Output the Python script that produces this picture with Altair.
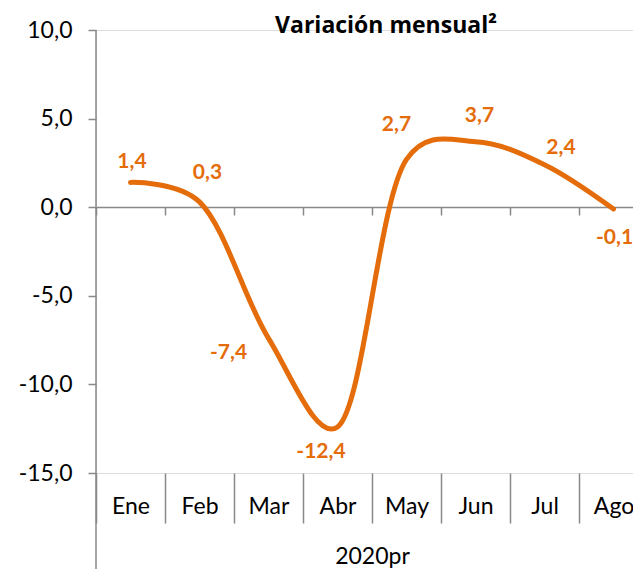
import altair as alt
import pandas as pd

months = ["Ene", "Feb", "Mar", "Abr", "May", "Jun", "Jul", "Ago"]
values = [1.4, 0.3, -7.4, -12.4, 2.7, 3.7, 2.4, -0.1]
# label placement (dx, dy) in pixels relative to each point
label_offsets = [(1.5, -20), (8, -29), (-40, 15), (-16.5, 25),
                 (-10, -34), (4, -26), (16.5, -17), (1, 29)]
y_ticks = [-15, -10, -5, 0, 5, 10]
title_text = "Variación mensual²"

df = pd.DataFrame({
    "mes": months,
    "valor": values,
    "etiqueta": [f"{v:.1f}".replace(".", ",") for v in values],
})

ORANGE = "#E46C0A"
GREY = "#898989"
FONT = "Lato"

xscale = alt.Scale(domain=months, range=[0, 552], paddingInner=0, paddingOuter=0)
yscale = alt.Scale(domain=[-15, 10], nice=False)

y_enc = alt.Y("valor:Q", scale=yscale, title=None,
              axis=alt.Axis(values=y_ticks, domain=False, grid=False, tickSize=8,
                            tickColor=GREY, tickWidth=1.5,
                            labelExpr="replace(replace(format(datum.value, '.1f'), '.', ','), '\u2212', '-')",
                            labelFont=FONT, labelFontSize=23, labelColor="black",
                            labelPadding=16))

x_main = alt.X("mes:N", sort=months, scale=xscale, title="2020pr",
               axis=alt.Axis(orient="bottom", domain=False, tickBand="extent",
                             tickSize=50, tickColor=GREY, tickWidth=1.5,
                             labelFont=FONT, labelFontSize=23, labelColor="black",
                             labelAngle=0, labelBaseline="middle", labelPadding=-17,
                             titleFont=FONT, titleFontSize=23, titleFontWeight="normal",
                             titleColor="black", titleY=90, titleBaseline="alphabetic"))

x_zero = alt.X("mes:N", sort=months, scale=xscale, title=None,
               axis=alt.Axis(orient="bottom", offset=-266, labels=False, domain=True,
                             domainColor=GREY, domainWidth=1.5, tickBand="extent",
                             tickSize=8, tickColor=GREY, tickWidth=1.5))

x_none = alt.X("mes:N", sort=months, scale=xscale, axis=None)

one = pd.DataFrame({"t": [title_text]})

yaxis_line = alt.Chart(one).mark_rule(
    color=GREY, strokeWidth=1.5
).encode(x=alt.value(0), y=alt.value(0), y2=alt.value(560))

title = alt.Chart(one).mark_text(
    font="Open Sans", fontSize=23, fontWeight="bold", color="black",
    align="center", baseline="alphabetic"
).encode(x=alt.value(290), y=alt.value(3), text="t:N")

zero_axis = alt.Chart(df).mark_point(opacity=0).encode(x=x_zero, y=y_enc)

line = alt.Chart(df).mark_line(
    color=ORANGE, strokeWidth=5, interpolate="catmull-rom", tension=0.25,
    strokeCap="round"
).encode(x=x_main, y=y_enc)

texts = []
for m, (dx, dy) in zip(months, label_offsets):
    texts.append(
        alt.Chart(df).transform_filter(alt.datum.mes == m).mark_text(
            font=FONT, fontSize=21, fontWeight="bold", color=ORANGE,
            align="center", baseline="middle", dx=dx, dy=dy
        ).encode(x=x_none, y=y_enc, text="etiqueta:N")
    )

chart = alt.layer(yaxis_line, zero_axis, line, *texts, title).resolve_axis(
    x="independent"
).properties(
    width=537,
    height=443,
    autosize=alt.AutoSizeParams(type="none"),
    padding={"left": 88, "top": 22, "right": 0, "bottom": 96},
).configure_view(stroke=None).configure(background="white")

chart.save("out.html", embed_options={"renderer": "svg", "actions": False})
